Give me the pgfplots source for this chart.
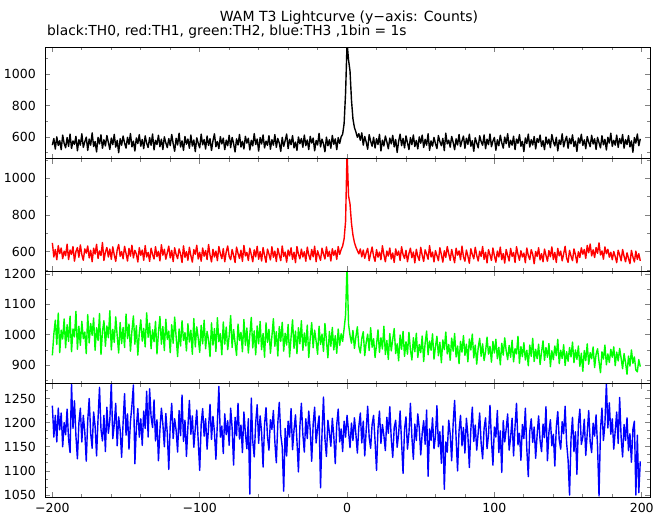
\documentclass[border=0pt]{standalone}
\usepackage{pgfplots}
\pgfplotsset{compat=1.18}
\usepackage{pgfplotstable}
\usepackage{fontspec}
\setmainfont{DejaVu Sans}
\definecolor{pgreen}{RGB}{0,255,0}
\definecolor{pred}{RGB}{255,0,0}
\definecolor{pblue}{RGB}{0,0,255}
\newcommand\tickfont{\fontsize{12.5bp}{14bp}\selectfont}
\newcommand\titlefont{\fontsize{14bp}{16bp}\selectfont}
\newcommand\subfont{\fontsize{13.8bp}{16bp}\selectfont}
% columns: b = TH0 (black), r = TH1 (red), g = TH2 (green), u = TH3 (blue); rows t = -200 ... 199 s
\pgfplotstableread{
b r g u
548 648 932 1235
590 571 1002 1170
523 612 1048 1215
601 556 968 1160
546 633 1071 1230
577 589 941 1185
519 620 1015 1220
612 562 986 1150
559 603 1052 1200
531 578 957 1175
596 641 1033 1228
540 557 978 1165
618 609 1061 1138
527 585 944 1280
575 628 1019 1188
553 548 993 1245
604 601 1077 1172
512 622 952 1125
583 570 1028 1199
548 637 965 1230
620 584 1044 1160
534 553 987 1215
569 615 1009 1181
599 592 938 1120
515 631 1066 1204
587 566 973 1250
548 608 1037 1178
626 545 998 1147
539 619 1055 1222
571 587 949 1193
505 640 1023 1131
597 563 981 1208
556 604 1070 1273
614 579 935 1186
528 650 1011 1162
582 552 1046 1215
543 598 962 1140
609 623 1029 1232
566 571 990 1178
521 614 1079 1205
593 558 950 1283
551 626 1018 1167
617 583 975 1196
535 547 1059 1240
578 610 996 1152
500 639 940 1212
589 575 1040 1185
547 601 971 1128
606 561 1024 1199
562 629 958 1260
529 590 1068 1174
598 549 987 1218
553 618 1035 1145
622 576 946 1202
537 635 1013 1236
574 566 1062 1278
511 607 969 1115
594 588 1030 1190
558 544 933 1229
615 622 1006 1170
541 580 1049 1208
584 609 979 1153
526 553 1021 1224
607 633 960 1188
560 571 1072 1265
533 596 992 1170
596 547 1038 1270
547 619 954 1212
619 585 1016 1190
518 560 977 1247
579 627 1044 1162
552 573 937 1206
611 602 1008 1121
538 550 1060 1185
586 638 969 1230
520 581 1027 1197
601 613 948 1150
563 559 1051 1219
532 595 985 1178
590 630 1012 1103
545 566 941 1196
616 607 1033 1240
557 546 972 1167
509 621 1058 1208
592 584 993 1184
549 562 928 1139
624 615 1019 1225
536 588 963 1173
575 541 1046 1257
515 632 981 1161
603 569 1007 1205
554 600 947 1130
587 553 1036 1192
528 624 976 1246
612 578 1015 1176
542 543 936 1214
581 611 1053 1149
507 586 960 1188
595 635 1026 1226
560 560 989 1161
531 597 942 1101
618 548 1031 1197
550 620 970 1229
584 575 1048 1172
523 606 954 1208
606 557 1011 1145
546 639 983 1190
589 582 928 1238
514 544 1039 1165
576 613 966 1213
620 571 1020 1180
538 603 945 1124
571 551 1056 1201
526 628 977 1275
602 589 1003 1170
556 562 934 1193
593 617 1042 1136
519 545 969 1218
580 599 1025 1175
544 631 951 1204
611 574 996 1153
532 556 1063 1230
597 612 958 1189
558 580 1017 1112
505 541 973 1211
588 625 932 1173
549 591 1035 1240
616 563 981 1166
536 608 1008 1195
573 547 944 1138
524 634 1050 1222
604 577 965 1178
561 596 1022 1146
592 552 940 1208
517 619 999 1052
579 584 1057 1251
543 545 957 1162
621 610 1013 1129
552 572 934 1200
587 629 1029 1237
510 559 970 1157
596 601 1044 1214
555 549 951 1180
613 622 1004 1108
530 580 926 1196
574 542 1039 1231
547 614 975 1171
608 587 1018 1143
522 555 939 1206
583 627 995 1186
548 570 1053 1225
615 603 962 1160
534 546 1010 1117
591 618 930 1199
562 583 1027 1242
508 551 978 1175
598 631 1041 1150
540 574 946 1058
577 598 1005 1188
619 543 966 1131
526 609 1034 1203
585 577 927 1170
551 621 992 1229
609 558 1049 1144
531 597 955 1185
568 540 1012 1216
515 628 938 1162
600 586 1023 1098
557 561 970 1193
590 614 1046 1240
535 571 949 1176
612 600 1006 1139
545 548 963 1208
581 625 1032 1167
520 583 925 1224
604 556 988 1185
561 612 1040 1120
593 572 957 1197
512 630 1015 1232
578 545 979 1158
549 605 936 1189
623 578 1028 1214
537 553 968 1065
586 619 1002 1178
556 587 945 1253
506 560 1037 1166
599 626 981 1130
544 574 924 1205
582 602 1011 1180
528 549 962 1151
610 616 1024 1209
553 580 950 1172
588 607 997 1115
519 558 939 1196
596 628 1019 1228
559 585 965 1160
601 612 1003 1187
618 631 978 1140
685 670 1020 1203
880 765 1065 1170
1200 1150 1230 1215
1090 905 1035 1182
1020 860 998 1148
835 755 972 1199
715 690 1014 1163
660 650 955 1210
632 625 993 1176
598 606 1026 1137
621 588 961 1192
579 615 940 1220
626 572 988 1158
548 609 1010 1203
603 564 931 1131
567 594 975 1185
522 618 1002 1234
615 551 948 1170
574 589 1023 1147
541 625 959 1196
598 576 987 1215
530 547 925 1162
589 611 968 1101
552 570 1016 1188
617 598 942 1224
511 556 990 1157
580 632 953 1196
543 583 1028 1173
606 545 935 1142
569 603 981 1211
525 576 919 1178
593 620 1004 1233
556 560 947 1166
610 593 985 1128
537 541 1020 1190
584 615 938 1205
502 579 970 1149
572 603 914 1177
618 552 999 1224
545 627 952 1160
591 584 1011 1095
530 563 929 1186
607 607 977 1212
563 545 936 1145
520 590 1008 1178
596 619 951 1240
551 567 917 1170
613 598 990 1124
539 539 944 1197
578 613 1005 1163
524 575 925 1218
601 552 968 1189
560 624 941 1133
612 581 996 1178
533 547 912 1204
585 610 973 1155
548 587 1012 1226
620 559 934 1089
515 633 979 1187
575 571 949 1163
542 598 1003 1210
597 544 920 1146
558 606 961 1172
526 578 995 1235
609 551 931 1150
571 621 975 1181
544 584 908 1116
591 543 983 1193
513 605 951 1062
624 569 1009 1160
556 628 937 1139
580 590 968 1205
535 553 916 1176
603 612 989 1121
566 575 946 1198
519 540 1004 1246
588 619 927 1168
549 581 963 1100
616 604 905 1183
539 556 978 1215
575 630 943 1152
606 573 997 1190
528 548 932 1137
592 609 969 1209
553 576 911 1174
618 537 986 1107
541 616 950 1185
577 585 1002 1232
509 561 924 1161
595 624 966 1195
562 580 903 1143
531 549 957 1179
608 602 988 1220
570 574 929 1157
547 628 970 1125
613 558 915 1188
525 597 945 1210
586 539 992 1146
551 611 936 1175
619 583 962 1236
538 552 910 1163
574 620 978 1112
597 577 940 1191
516 543 985 1170
582 603 921 1225
544 571 959 1138
611 625 901 1183
563 556 972 1097
529 590 933 1204
599 538 990 1160
557 612 947 1187
621 580 918 1218
534 549 965 1143
579 618 926 1169
548 574 982 1209
605 596 911 1131
520 541 954 1192
587 627 937 1240
560 585 995 1154
615 553 906 1178
541 605 961 1122
572 571 928 1196
507 592 974 1167
594 540 917 1230
558 620 949 1145
618 579 898 1088
536 557 966 1182
583 611 929 1208
549 586 988 1159
603 534 912 1191
524 601 952 1126
590 574 921 1175
565 622 969 1214
612 555 902 1163
540 589 943 1140
577 545 980 1197
519 614 916 1169
600 580 958 1233
555 548 926 1121
586 606 971 1180
532 572 895 1206
616 626 947 1152
570 557 918 1176
543 596 963 1110
598 541 931 1190
512 618 985 1223
581 577 905 1164
552 603 949 1145
620 550 922 1202
537 588 967 1177
576 629 899 1234
604 565 944 1158
528 542 913 1123
591 607 958 1050
556 576 927 1167
613 551 976 1211
539 615 908 1140
574 583 950 1181
508 539 919 1093
594 600 963 1196
560 568 896 1228
617 621 939 1155
546 586 880 1170
582 612 948 1207
525 563 915 1132
603 634 970 1178
567 594 903 1225
538 642 941 1160
611 577 921 1138
555 610 960 1199
589 568 892 1172
521 623 935 1216
597 591 954 1151
563 648 912 1048
531 582 875 1185
608 604 944 1230
550 559 920 1163
585 626 966 1197
517 589 901 1282
598 613 937 1189
561 570 909 1241
624 597 952 1176
540 556 926 1208
579 601 960 1145
548 573 898 1183
612 540 943 1222
534 608 914 1157
590 582 955 1252
557 550 923 1170
616 612 888 1129
529 575 938 1196
583 545 908 1163
552 594 870 1210
609 563 930 1142
537 535 897 1177
575 607 950 1118
503 571 906 1186
596 544 927 1203
561 603 884 1050
619 558 878 1174
544 589 918 1055
588 550 895 1120
}\lcdata

\pgfplotsset{panel/.style={
  scale only axis, width=605bp, anchor=south west,
  xmin=-205, xmax=205.6,
  xtick={-200,-100,0,100,200}, minor x tick num=4,
  xticklabels={},
  tick align=inside,
  major tick length=5bp, minor tick length=3bp,
  every tick/.append style={line width=0.8bp},
  axis line style={line width=1bp},
  tick label style={font=\tickfont},
  yticklabel style={anchor=east, inner sep=0pt, xshift=-9bp},
  xticklabel style={anchor=north, inner sep=0pt, yshift=-6bp},
  /pgf/number format/assume math mode=true,
  /pgf/number format/1000 sep={},
  scaled y ticks=false,
}, curve/.style={sharp plot, line width=1.4bp, line join=round, mark=none}}

\begin{document}
\begin{tikzpicture}
\path[use as bounding box] (0,0) rectangle (669bp,515bp);
\node[anchor=base, font=\titlefont, inner sep=0pt] at (349bp,493.3bp) {WAM T3 Lightcurve (y−axis: Counts)};
\node[anchor=base west, font=\subfont, inner sep=0pt] at (47bp,479.3bp) {black:TH0, red:TH1, green:TH2, blue:TH3 ,1bin = 1s};

% TH3 (bottom)
\begin{axis}[panel, at={(45bp,18bp)}, height=113bp,
  ymin=1046, ymax=1280,
  ytick={1050,1100,1150,1200,1250},
  minor ytick={1066.67,1083.33,1116.67,1133.33,1166.67,1183.33,1216.67,1233.33,1266.67},
  xticklabels={−200,−100,0,100,200}]
\addplot[curve, color=pblue] table[x expr=\coordindex-200, y=u] {\lcdata};
\end{axis}

% TH2
\begin{axis}[panel, at={(45bp,131bp)}, height=112.5bp,
  ymin=838, ymax=1208,
  ytick={900,1000,1100,1200},
  minor ytick={850,950,1050,1150}]
\addplot[curve, color=pgreen] table[x expr=\coordindex-200, y=g] {\lcdata};
\end{axis}

% TH1
\begin{axis}[panel, at={(45bp,243.5bp)}, height=112.5bp,
  ymin=492, ymax=1105,
  ytick={600,800,1000},
  minor ytick={500,700,900,1100}]
\addplot[curve, color=pred] table[x expr=\coordindex-200, y=r] {\lcdata};
\end{axis}

% TH0 (top)
\begin{axis}[panel, at={(45bp,356bp)}, height=111.7bp,
  ymin=460, ymax=1170,
  ytick={600,800,1000},
  minor ytick={500,700,900,1100}]
\addplot[curve, color=black] table[x expr=\coordindex-200, y=b] {\lcdata};
\end{axis}
\end{tikzpicture}
\end{document}
